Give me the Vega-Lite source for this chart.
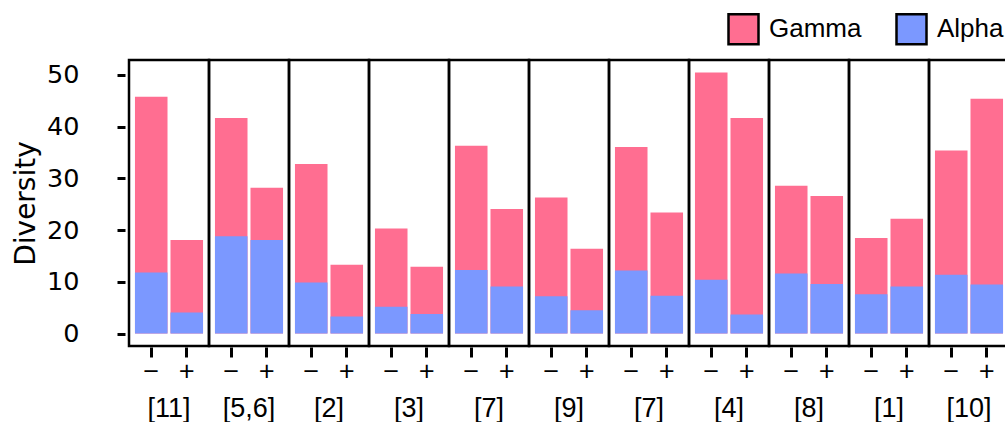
{
  "$schema": "https://vega.github.io/schema/vega-lite/v6.json",
  "padding": {"left": 12, "top": 12, "right": 0, "bottom": 0},
  "background": "white",
  "bounds": "flush",
  "data": {"values": [
    {"panel": "a|[11]", "sign": "−", "metric": "Gamma", "value": 45.8},
    {"panel": "a|[11]", "sign": "+", "metric": "Gamma", "value": 18.1},
    {"panel": "b|[5,6]", "sign": "−", "metric": "Gamma", "value": 41.7},
    {"panel": "b|[5,6]", "sign": "+", "metric": "Gamma", "value": 28.2},
    {"panel": "c|[2]", "sign": "−", "metric": "Gamma", "value": 32.8},
    {"panel": "c|[2]", "sign": "+", "metric": "Gamma", "value": 13.3},
    {"panel": "d|[3]", "sign": "−", "metric": "Gamma", "value": 20.3},
    {"panel": "d|[3]", "sign": "+", "metric": "Gamma", "value": 12.9},
    {"panel": "e|[7]", "sign": "−", "metric": "Gamma", "value": 36.3},
    {"panel": "e|[7]", "sign": "+", "metric": "Gamma", "value": 24.1},
    {"panel": "f|[9]", "sign": "−", "metric": "Gamma", "value": 26.3},
    {"panel": "f|[9]", "sign": "+", "metric": "Gamma", "value": 16.4},
    {"panel": "g|[7]", "sign": "−", "metric": "Gamma", "value": 36.1},
    {"panel": "g|[7]", "sign": "+", "metric": "Gamma", "value": 23.4},
    {"panel": "h|[4]", "sign": "−", "metric": "Gamma", "value": 50.5},
    {"panel": "h|[4]", "sign": "+", "metric": "Gamma", "value": 41.7},
    {"panel": "i|[8]", "sign": "−", "metric": "Gamma", "value": 28.6},
    {"panel": "i|[8]", "sign": "+", "metric": "Gamma", "value": 26.6},
    {"panel": "j|[1]", "sign": "−", "metric": "Gamma", "value": 18.5},
    {"panel": "j|[1]", "sign": "+", "metric": "Gamma", "value": 22.2},
    {"panel": "k|[10]", "sign": "−", "metric": "Gamma", "value": 35.4},
    {"panel": "k|[10]", "sign": "+", "metric": "Gamma", "value": 45.4},
    {"panel": "a|[11]", "sign": "−", "metric": "Alpha", "value": 11.8},
    {"panel": "a|[11]", "sign": "+", "metric": "Alpha", "value": 4.1},
    {"panel": "b|[5,6]", "sign": "−", "metric": "Alpha", "value": 18.8},
    {"panel": "b|[5,6]", "sign": "+", "metric": "Alpha", "value": 18.1},
    {"panel": "c|[2]", "sign": "−", "metric": "Alpha", "value": 9.9},
    {"panel": "c|[2]", "sign": "+", "metric": "Alpha", "value": 3.3},
    {"panel": "d|[3]", "sign": "−", "metric": "Alpha", "value": 5.2},
    {"panel": "d|[3]", "sign": "+", "metric": "Alpha", "value": 3.8},
    {"panel": "e|[7]", "sign": "−", "metric": "Alpha", "value": 12.3},
    {"panel": "e|[7]", "sign": "+", "metric": "Alpha", "value": 9.1},
    {"panel": "f|[9]", "sign": "−", "metric": "Alpha", "value": 7.2},
    {"panel": "f|[9]", "sign": "+", "metric": "Alpha", "value": 4.5},
    {"panel": "g|[7]", "sign": "−", "metric": "Alpha", "value": 12.2},
    {"panel": "g|[7]", "sign": "+", "metric": "Alpha", "value": 7.3},
    {"panel": "h|[4]", "sign": "−", "metric": "Alpha", "value": 10.4},
    {"panel": "h|[4]", "sign": "+", "metric": "Alpha", "value": 3.7},
    {"panel": "i|[8]", "sign": "−", "metric": "Alpha", "value": 11.6},
    {"panel": "i|[8]", "sign": "+", "metric": "Alpha", "value": 9.6},
    {"panel": "j|[1]", "sign": "−", "metric": "Alpha", "value": 7.6},
    {"panel": "j|[1]", "sign": "+", "metric": "Alpha", "value": 9.1},
    {"panel": "k|[10]", "sign": "−", "metric": "Alpha", "value": 11.4},
    {"panel": "k|[10]", "sign": "+", "metric": "Alpha", "value": 9.5}
  ]},
  "facet": {
    "column": {
      "field": "panel", "type": "nominal", "sort": "ascending",
      "header": {
        "title": null, "labelOrient": "bottom",
        "labelExpr": "split(datum.value, '|')[1]",
        "labelFont": "Liberation Sans", "labelFontSize": 27, "labelColor": "black",
        "labelPadding": 10
      }
    }
  },
  "spacing": 0,
  "spec": {
    "width": 80,
    "height": 286,
    "mark": {"type": "bar", "opacity": 1},
    "encoding": {
      "x": {
        "field": "sign", "type": "nominal", "sort": ["−", "+"],
        "scale": {"paddingInner": 0.084, "paddingOuter": 0.168},
        "axis": {
          "title": null, "domain": false, "grid": false, "labelAngle": 0,
          "tickSize": 10, "tickWidth": 3, "tickColor": "black", "offset": 1,
          "labelFont": "Open Sans", "labelFontSize": 28, "labelColor": "black", "labelPadding": 1
        }
      },
      "y": {
        "field": "value", "type": "quantitative",
        "scale": {"domain": [-2.4, 52.9], "nice": false, "zero": false},
        "axis": {
          "values": [0, 10, 20, 30, 40, 50], "domain": false, "grid": false,
          "tickSize": 8, "tickWidth": 3, "tickColor": "black", "offset": 4,
          "labelPadding": 38, "labelFont": "DejaVu Sans", "labelFontSize": 25.5, "labelColor": "black",
          "title": "Diversity", "titleFont": "DejaVu Sans", "titleFontSize": 28,
          "titleFontWeight": "normal", "titleColor": "black", "titlePadding": 6
        }
      },
      "y2": {"datum": 0},
      "color": {
        "field": "metric", "type": "nominal",
        "scale": {"domain": ["Gamma", "Alpha"], "range": ["#FF6E91", "#7B98FF"]},
        "legend": {
          "title": null, "orient": "none", "legendX": 598, "legendY": -47.5,
          "direction": "horizontal", "symbolType": "square", "symbolSize": 900,
          "symbolStrokeColor": "black", "symbolStrokeWidth": 2.5, "symbolOpacity": 1,
          "labelFont": "Liberation Sans", "labelFontSize": 26, "labelColor": "black",
          "labelOffset": 9, "columnPadding": 29
        }
      }
    }
  },
  "config": {
    "view": {"stroke": "black", "strokeWidth": 2.5}
  }
}
